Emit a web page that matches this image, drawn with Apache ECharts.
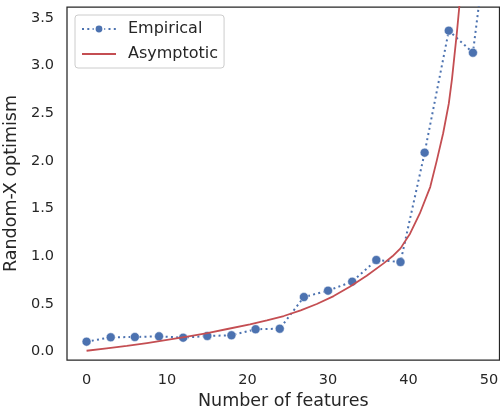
<!DOCTYPE html>
<html>
<head>
<meta charset="utf-8">
<script src="https://cdn.jsdelivr.net/npm/echarts@6/dist/echarts.min.js"></script>
<style>
html,body{margin:0;padding:0;background:#fff;}
#chart{width:500px;height:408px;}
</style>
</head>
<body>
<div id="chart"></div>
<script>
// Empirical optimism
const featureCounts = [0, 3, 6, 9, 12, 15, 18, 21, 24, 27, 30, 33, 36, 39, 42, 45, 48, 49];
const empiricalValues = [0.105, 0.151, 0.154, 0.161, 0.147, 0.165, 0.172, 0.235, 0.241, 0.573, 0.640, 0.734, 0.961, 0.940, 2.086, 3.365, 3.134, 3.81];
// Asymptotic curve
const asymX = [0, 2.5, 5, 7.5, 10, 12.5, 15, 17.5, 20.3, 22.4, 24.5, 26.6, 28.6, 30.7, 32.7, 34.8, 36.9, 38.0, 39.0, 40.2, 41.4, 42.7, 43.5, 44.3, 45.0, 45.4, 45.7, 46.0, 46.3, 46.8];
const asymY = [0.01, 0.035, 0.06, 0.09, 0.123, 0.157, 0.195, 0.238, 0.287, 0.328, 0.374, 0.434, 0.50, 0.583, 0.68, 0.796, 0.926, 1.0, 1.083, 1.24, 1.449, 1.728, 2.0, 2.29, 2.60, 2.86, 3.10, 3.34, 3.61, 4.15];
const xTicks = [0, 10, 20, 30, 40, 50];
const yTicks = [0, 0.5, 1.0, 1.5, 2.0, 2.5, 3.0, 3.5];

const FONT = 'DejaVu Sans';
const TXT = '#262626';
const chart = echarts.init(document.getElementById('chart'), null, {renderer: 'canvas'});
chart.setOption({
  animation: false,
  backgroundColor: '#ffffff',
  grid: {left: 67, right: 0.5, top: 7, bottom: 48, show: true, borderColor: '#262626', borderWidth: 1.25, containLabel: false, outerBoundsMode: 'none'},
  legend: {
    left: 75, top: 15, orient: 'vertical',
    padding: [6, 6, 6, 6],
    itemGap: 9, itemWidth: 34, itemHeight: 11,
    borderColor: '#cccccc', borderWidth: 1, borderRadius: 3,
    backgroundColor: 'rgba(255,255,255,0.8)',
    textStyle: {fontFamily: FONT, fontSize: 16, color: TXT, padding: [0, 0, 0, 7]},
    data: [
      {name: 'Empirical'},
      {name: 'Asymptotic', itemStyle: {opacity: 0}}
    ]
  },
  xAxis: {
    type: 'value', min: -2.43, max: 51.3,
    name: 'Number of features', nameLocation: 'middle', nameGap: 31,
    nameTextStyle: {fontFamily: FONT, fontSize: 17.5, color: TXT},
    axisLine: {show: false}, axisTick: {show: false}, splitLine: {show: false},
    axisLabel: {customValues: xTicks, fontFamily: FONT, fontSize: 14.5, color: TXT, margin: 13}
  },
  yAxis: {
    type: 'value', min: -0.087, max: 3.613,
    name: 'Random-X optimism', nameLocation: 'middle', nameGap: 40,
    nameTextStyle: {fontFamily: FONT, fontSize: 17.5, color: TXT},
    axisLine: {show: false}, axisTick: {show: false}, splitLine: {show: false},
    axisLabel: {customValues: yTicks, fontFamily: FONT, fontSize: 14.5, color: TXT, margin: 13,
      formatter: v => v.toFixed(1)}
  },
  series: [
    {
      name: 'Empirical', type: 'line', clip: true,
      data: featureCounts.map((x, i) => [x, empiricalValues[i]]),
      symbol: 'circle', symbolSize: 9,
      itemStyle: {color: '#4C72B0', borderColor: '#ffffff', borderWidth: 0.5},
      lineStyle: {color: '#4C72B0', width: 2, type: [2, 3.3]},
      z: 2
    },
    {
      name: 'Asymptotic', type: 'line', clip: true, smooth: false,
      data: asymX.map((x, i) => [x, asymY[i]]),
      symbol: 'none', showSymbol: false,
      itemStyle: {color: '#C44E52'},
      lineStyle: {color: '#C44E52', width: 1.8, join: 'round'},
      z: 3
    }
  ]
});
</script>
</body>
</html>
